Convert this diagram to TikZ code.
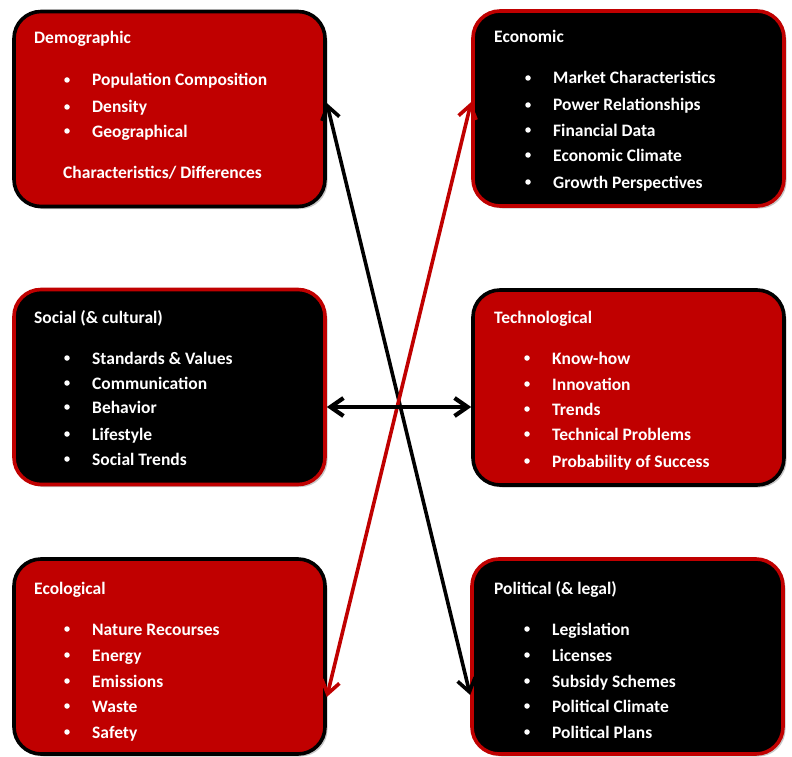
\documentclass[tikz,border=0pt]{standalone}
\usepackage{fontspec}
\setmainfont{Carlito}
\usetikzlibrary{arrows.meta,shadows}
\definecolor{pestred}{RGB}{192,0,0}
\begin{document}
\begin{tikzpicture}[x=1pt,y=-1pt,
  panel/.style={rectangle, rounded corners=27pt, line width=3.6pt,
    minimum width=311pt, minimum height=195pt, inner sep=0pt,
    drop shadow={shadow xshift=2.5pt, shadow yshift=-2.5pt, fill=black, opacity=0.22}},
  redpanel/.style={panel, fill=pestred, draw=black},
  blackpanel/.style={panel, fill=black, draw=pestred},
  label/.style={anchor=base west, text=white, inner sep=0pt,
    font=\fontsize{17.5}{20}\selectfont\bfseries},
  dot/.style={circle, fill=white, inner sep=0pt, minimum size=5.5pt},
  barb/.tip={Straight Barb[length=13pt,width=18pt]},
  link/.style={line width=3.6pt, barb-barb},
]
\useasboundingbox (0,0) rectangle (792,757);
\fill[white] (0,0) rectangle (792,757);

% panels
\node[redpanel]   (demo)   at (169.5,109) {};
\node[blackpanel] (econ)   at (628.5,108.5) {};
\node[blackpanel] (social) at (169.5,387) {};
\node[redpanel]   (tech)   at (628.5,387.5) {};
\node[redpanel]   (eco)    at (169.5,656.5) {};
\node[blackpanel] (pol)    at (627.5,656.5) {};

% headings
\node[label] (demo-h)   at (34,44)  {Demographic};
\node[label] (econ-h)   at (494,43) {Economic};
\node[label] (social-h) at (34,323) {Social (\& cultural)};
\node[label] (tech-h)   at (494,323) {Technological};
\node[label] (eco-h)    at (34,594) {Ecological};
\node[label] (pol-h)    at (494,594) {Political (\& legal)};

% bullet lists
\foreach \t/\y [count=\k] in {Population Composition/80, Density/107, Geographical/131} {
  \node[dot] (demo-b\k) at (67,\y) {};
  \node[label] (demo-t\k) at (92,{\y+6}) {\t};
}
\node[label] (demo-x) at (63,178) {Characteristics/ Differences};

\foreach \t/\y [count=\k] in {Market Characteristics/78, Power Relationships/105,
    Financial Data/130, Economic Climate/155, Growth Perspectives/182} {
  \node[dot] (econ-b\k) at (528,\y) {};
  \node[label] (econ-t\k) at (553,{\y+6}) {\t};
}

\foreach \t/\y [count=\k] in {Standards \& Values/358, Communication/383,
    Behavior/407, Lifestyle/434, Social Trends/459} {
  \node[dot] (social-b\k) at (67,\y) {};
  \node[label] (social-t\k) at (92,{\y+6}) {\t};
}

\foreach \t/\y [count=\k] in {Know-how/358, Innovation/384, Trends/409,
    Technical Problems/434, Probability of Success/461} {
  \node[dot] (tech-b\k) at (527,\y) {};
  \node[label] (tech-t\k) at (552,{\y+6}) {\t};
}

\foreach \t/\y [count=\k] in {Nature Recourses/629, Energy/655, Emissions/681,
    Waste/706, Safety/732} {
  \node[dot] (eco-b\k) at (67,\y) {};
  \node[label] (eco-t\k) at (92,{\y+6}) {\t};
}

\foreach \t/\y [count=\k] in {Legislation/629, Licenses/655, Subsidy Schemes/681,
    Political Climate/706, Political Plans/732} {
  \node[dot] (pol-b\k) at (527,\y) {};
  \node[label] (pol-t\k) at (552,{\y+6}) {\t};
}

% connector end points on the panel borders
\coordinate (demo-e)   at (demo.east |- 0,103);
\coordinate (pol-w)    at (pol.west |- 0,695);
\coordinate (econ-w)   at (econ.west |- 0,102);
\coordinate (eco-e)    at (eco.east |- 0,697);
\coordinate (social-e) at (social.east |- 0,407);
\coordinate (tech-w)   at (tech.west |- 0,407);

% connectors
\draw[link, draw=black]   (demo-e) -- (pol-w);
\draw[link, draw=pestred] (econ-w) -- (eco-e);
\draw[link, draw=black, line width=4.2pt] (social-e) -- (tech-w);
\end{tikzpicture}
\end{document}
